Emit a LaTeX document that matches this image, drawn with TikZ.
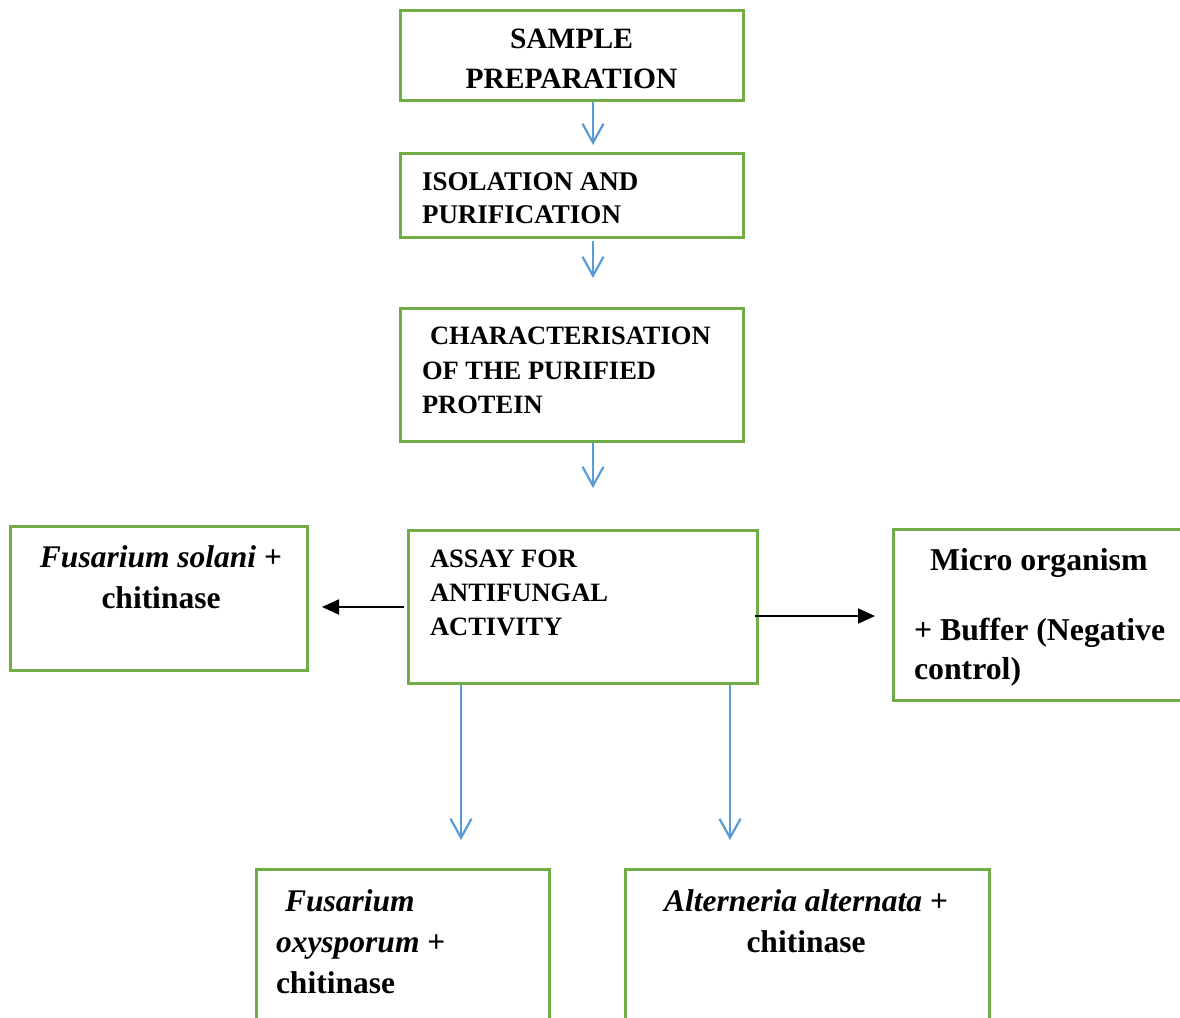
\documentclass[tikz,border=0pt]{standalone}
\usepackage{fontspec}
\setmainfont{Liberation Serif}
\usetikzlibrary{arrows.meta}
\definecolor{boxgreen}{HTML}{70AD47}
\definecolor{arrowblue}{HTML}{5B9BD5}
\begin{document}
\begin{tikzpicture}[x=1pt,y=-1pt,
  box/.style={draw=boxgreen, line width=3pt, inner sep=0pt, fill=none},
  txt/.style={inner sep=0pt, outer sep=0pt},
  capsA/.style={font=\fontsize{26.5}{34.5}\selectfont\bfseries},
  capsB/.style={font=\fontsize{29.5}{40}\selectfont\bfseries},
  lower/.style={font=\fontsize{31.5}{40.5}\selectfont\bfseries},
  barrow/.style={draw=arrowblue, line width=2.2pt, -{Straight Barb[length=19pt, width=21pt, line width=2.2pt]}},
  karrow/.style={draw=black, line width=2pt, -{Triangle[length=17pt, width=15pt]}}
]
\useasboundingbox (0,0) rectangle (1180,1017);
\fill[white] (0,0) rectangle (1180,1017);
\clip (0,0) rectangle (1180,1017);

% boxes
\node[box, minimum width=343pt, minimum height=90pt]  (sp)    at (571.5,55)   {};
\node[box, minimum width=343pt, minimum height=84pt]  (iso)   at (571.5,195)  {};
\node[box, minimum width=343pt, minimum height=133pt] (char)  at (571.5,374.5){};
\node[box, minimum width=349pt, minimum height=153pt] (assay) at (582.5,606.5){};
\node[box, minimum width=297pt, minimum height=144pt] (fs)    at (158.5,598)  {};
\node[box, minimum width=300pt, minimum height=171pt] (micro) at (1043,614.5)  {};
\node[box, minimum width=293pt, minimum height=170pt] (fox)   at (402.5,954)  {};
\node[box, minimum width=364pt, minimum height=170pt] (alt)   at (807,954)    {};

% texts
\node[txt, capsB, anchor=north, align=center] (tsp) at (571.5,29) {SAMPLE\\PREPARATION};
\node[txt, capsA, anchor=north west, align=left, font=\fontsize{27}{33}\selectfont\bfseries] (tiso) at (422,172.5) {ISOLATION AND\\PURIFICATION};
\node[txt, capsA, anchor=north west, align=left] (tchar) at (422,327) {\hspace*{8pt}CHARACTERISATION\\OF THE PURIFIED\\PROTEIN};
\node[txt, capsA, anchor=north west, align=left, font=\fontsize{26.5}{34}\selectfont\bfseries] (tassay) at (430,550) {ASSAY FOR\\ANTIFUNGAL\\ACTIVITY};
\node[txt, lower, anchor=north, align=center] (tfs) at (161,546) {\textit{Fusarium solani} +\\chitinase};
\node[txt, lower, anchor=north west, align=left, font=\fontsize{31.8}{39}\selectfont\bfseries] (tmicro) at (914,548) {\hspace*{16pt}Micro organism\\[31pt]+ Buffer (Negative\\control)};
\node[txt, lower, anchor=north west, align=left, font=\fontsize{31.5}{41}\selectfont\bfseries] (tfox) at (276,890) {\hspace*{9pt}\textit{Fusarium}\\\textit{oxysporum} +\\chitinase};
\node[txt, lower, anchor=north, align=center] (talt) at (806,890) {\textit{Alterneria alternata} +\\chitinase};

% arrow end points
\coordinate (c1) at (593,145);
\coordinate (c2) at (593,278);
\coordinate (c3) at (593,488);
\coordinate (b1) at (461,840);
\coordinate (b2) at (730,840);
\coordinate (l1) at (322,607);
\coordinate (r1) at (875,616);

% connectors
\draw[barrow] (sp.south -| c1) -- (c1);
\draw[barrow, shorten <=2pt] (iso.south -| c2) -- (c2);
\draw[barrow] (char.south -| c3) -- (c3);
\draw[barrow] (assay.south -| b1) -- (b1);
\draw[barrow] (assay.south -| b2) -- (b2);
\draw[karrow, shorten <=3pt] (assay.west |- l1) -- (l1);
\draw[karrow, shorten <=-4pt] (assay.east |- r1) -- (r1);
\end{tikzpicture}
\end{document}
